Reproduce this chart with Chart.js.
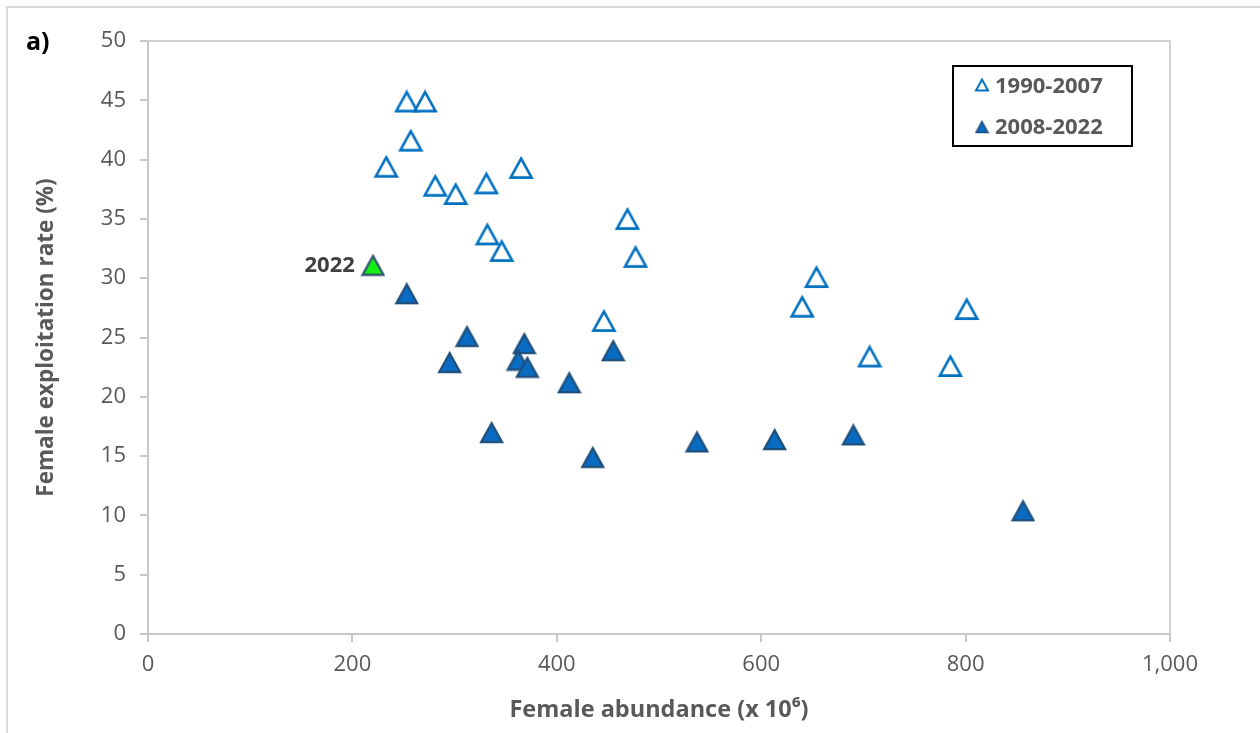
<!DOCTYPE html>
<html>
<head>
<meta charset="utf-8">
<script src="https://cdn.jsdelivr.net/npm/chart.js@4"></script>
<style>
  body { margin: 0; background: #fff; }
  #wrap { position: relative; width: 1260px; height: 733px; }
</style>
</head>
<body>
<div id="wrap"><canvas id="chart" width="1260" height="733"></canvas></div>
<script>
// 1990-2007 (open triangles)
const earlyAbundance = [253, 271, 257, 233, 281, 301, 331, 365, 332, 346, 469, 477, 446, 640, 654, 706, 785, 801];
const earlyRate = [44.9, 44.9, 41.6, 39.4, 37.8, 37.1, 38.0, 39.3, 33.7, 32.3, 35.0, 31.8, 26.4, 27.6, 30.1, 23.4, 22.6, 27.4];

// 2008-2022 (filled triangles), last one is 2022
const lateAbundance = [253, 312, 295, 368, 362, 371, 412, 455, 336, 435, 537, 613, 690, 856, 220];
const lateRate = [28.7, 25.1, 22.9, 24.5, 23.1, 22.5, 21.2, 23.9, 17.0, 14.9, 16.2, 16.4, 16.8, 10.4, 31.1];

const seriesNames = ["1990-2007", "2008-2022"];
const highlightLabel = "2022";
const yTicks = [0, 5, 10, 15, 20, 25, 30, 35, 40, 45, 50];
const xTicks = [0, 200, 400, 600, 800, 1000];

const FONT = "'Open Sans', 'DejaVu Sans', sans-serif";
const GRAY = "#595959";

function makeTri(w, h, fill, stroke, lw) {
    const c = document.createElement("canvas");
    c.width = w + lw * 2;
    c.height = h + lw * 2;
    const g = c.getContext("2d");
    g.beginPath();
    g.moveTo(lw + w / 2, lw);
    g.lineTo(lw + w, lw + h);
    g.lineTo(lw, lw + h);
    g.closePath();
    if (fill) { g.fillStyle = fill; g.fill(); }
    g.lineJoin = "miter";
    g.lineWidth = lw;
    g.strokeStyle = stroke;
    g.stroke();
    return c;
}

const openTri = makeTri(21, 19, "#ffffff", "#0070c0", 2.6);
const fullTri = makeTri(21, 19, "#0a6bc2", "#1f4e79", 2.2);
const greenTri = makeTri(21, 19, "#14f014", "#2f5070", 2.2);
const openSmall = makeTri(12, 11, "#ffffff", "#0070c0", 2);
const fullSmall = makeTri(12, 11, "#0a6bc2", "#1f4e79", 1.5);

const earlyPts = earlyAbundance.map((x, i) => ({ x: x, y: earlyRate[i] }));
const latePts = lateAbundance.map((x, i) => ({ x: x, y: lateRate[i] }));
const lastIdx = latePts.length - 1;

const extras = {
    id: "extras",
    beforeDraw(chart) {
        const ctx = chart.ctx;
        ctx.save();
        ctx.fillStyle = "#fff";
        ctx.fillRect(0, 0, chart.width, chart.height);
        ctx.strokeStyle = "#d9d9d9";
        ctx.lineWidth = 2;
        ctx.strokeRect(7, 7, 1400, 900);
        ctx.restore();
    },
    afterDraw(chart) {
        const ctx = chart.ctx;
        const a = chart.chartArea;
        ctx.save();
        // plot area top and right border
        ctx.strokeStyle = "#d0d0d0";
        ctx.lineWidth = 2;
        ctx.beginPath();
        ctx.moveTo(a.left, a.top);
        ctx.lineTo(a.right, a.top);
        ctx.lineTo(a.right, a.bottom);
        ctx.stroke();

        // panel letter
        ctx.fillStyle = "#000";
        ctx.font = "bold 25px " + FONT;
        ctx.textAlign = "left";
        ctx.textBaseline = "middle";
        ctx.fillText("a)", 26, 43);

        // 2022 label beside its point
        const pt = chart.getDatasetMeta(1).data[lastIdx];
        ctx.fillStyle = "#404040";
        ctx.font = "bold 22px " + FONT;
        ctx.textAlign = "right";
        ctx.fillText(highlightLabel, pt.x - 18, pt.y + 1);

        // legend box
        ctx.strokeStyle = "#000";
        ctx.lineWidth = 2;
        ctx.strokeRect(953, 66, 179, 80);
        ctx.drawImage(openSmall, 982 - openSmall.width / 2, 85 - openSmall.height / 2);
        ctx.drawImage(fullSmall, 982 - fullSmall.width / 2, 127 - fullSmall.height / 2);
        ctx.fillStyle = GRAY;
        ctx.font = "bold 22px " + FONT;
        ctx.textAlign = "left";
        ctx.fillText(seriesNames[0], 995, 87);
        ctx.fillText(seriesNames[1], 995, 128);
        ctx.restore();
    }
};

new Chart(document.getElementById("chart"), {
    type: "scatter",
    data: {
        datasets: [
            {
                label: seriesNames[0],
                data: earlyPts,
                pointStyle: openTri,
                pointRadius: 12,
                pointHoverRadius: 12
            },
            {
                label: seriesNames[1],
                data: latePts,
                pointStyle: (c) => c.dataIndex === lastIdx ? greenTri : fullTri,
                pointRadius: 12,
                pointHoverRadius: 12
            }
        ]
    },
    options: {
        responsive: false,
        animation: false,
        layout: { padding: { top: 41, right: 90, bottom: 0, left: 0 } },
        plugins: {
            legend: { display: false },
            tooltip: { enabled: false }
        },
        scales: {
            x: {
                type: "linear",
                min: 0,
                max: 1000,
                afterBuildTicks: (s) => { s.ticks = xTicks.map(v => ({ value: v })); },
                afterFit: (s) => { s.height = 99; },
                ticks: {
                    color: GRAY,
                    font: { family: FONT, size: 22 },
                    padding: 10,
                    callback: (v) => v.toLocaleString("en-US")
                },
                grid: { drawOnChartArea: false, color: "#c8c8c8", lineWidth: 2, tickLength: 8 },
                border: { color: "#c8c8c8", width: 2 },
                title: {
                    display: true,
                    text: "Female abundance (x 10\u2076)",
                    color: GRAY,
                    font: { family: FONT, size: 23.5, weight: "bold" },
                    padding: { top: 0, bottom: 9 }
                }
            },
            y: {
                min: 0,
                max: 50,
                afterBuildTicks: (s) => { s.ticks = yTicks.map(v => ({ value: v })); },
                afterFit: (s) => { s.width = 148; },
                ticks: {
                    color: GRAY,
                    font: { family: FONT, size: 22 },
                    padding: 14
                },
                grid: { drawOnChartArea: false, color: "#c8c8c8", lineWidth: 2, tickLength: 8 },
                border: { color: "#c8c8c8", width: 2 },
                title: {
                    display: true,
                    text: "Female exploitation rate (%)",
                    color: GRAY,
                    font: { family: FONT, size: 22.5, weight: "bold" },
                    padding: { top: 33, bottom: 0 }
                }
            }
        }
    },
    plugins: [extras]
});
</script>
</body>
</html>
